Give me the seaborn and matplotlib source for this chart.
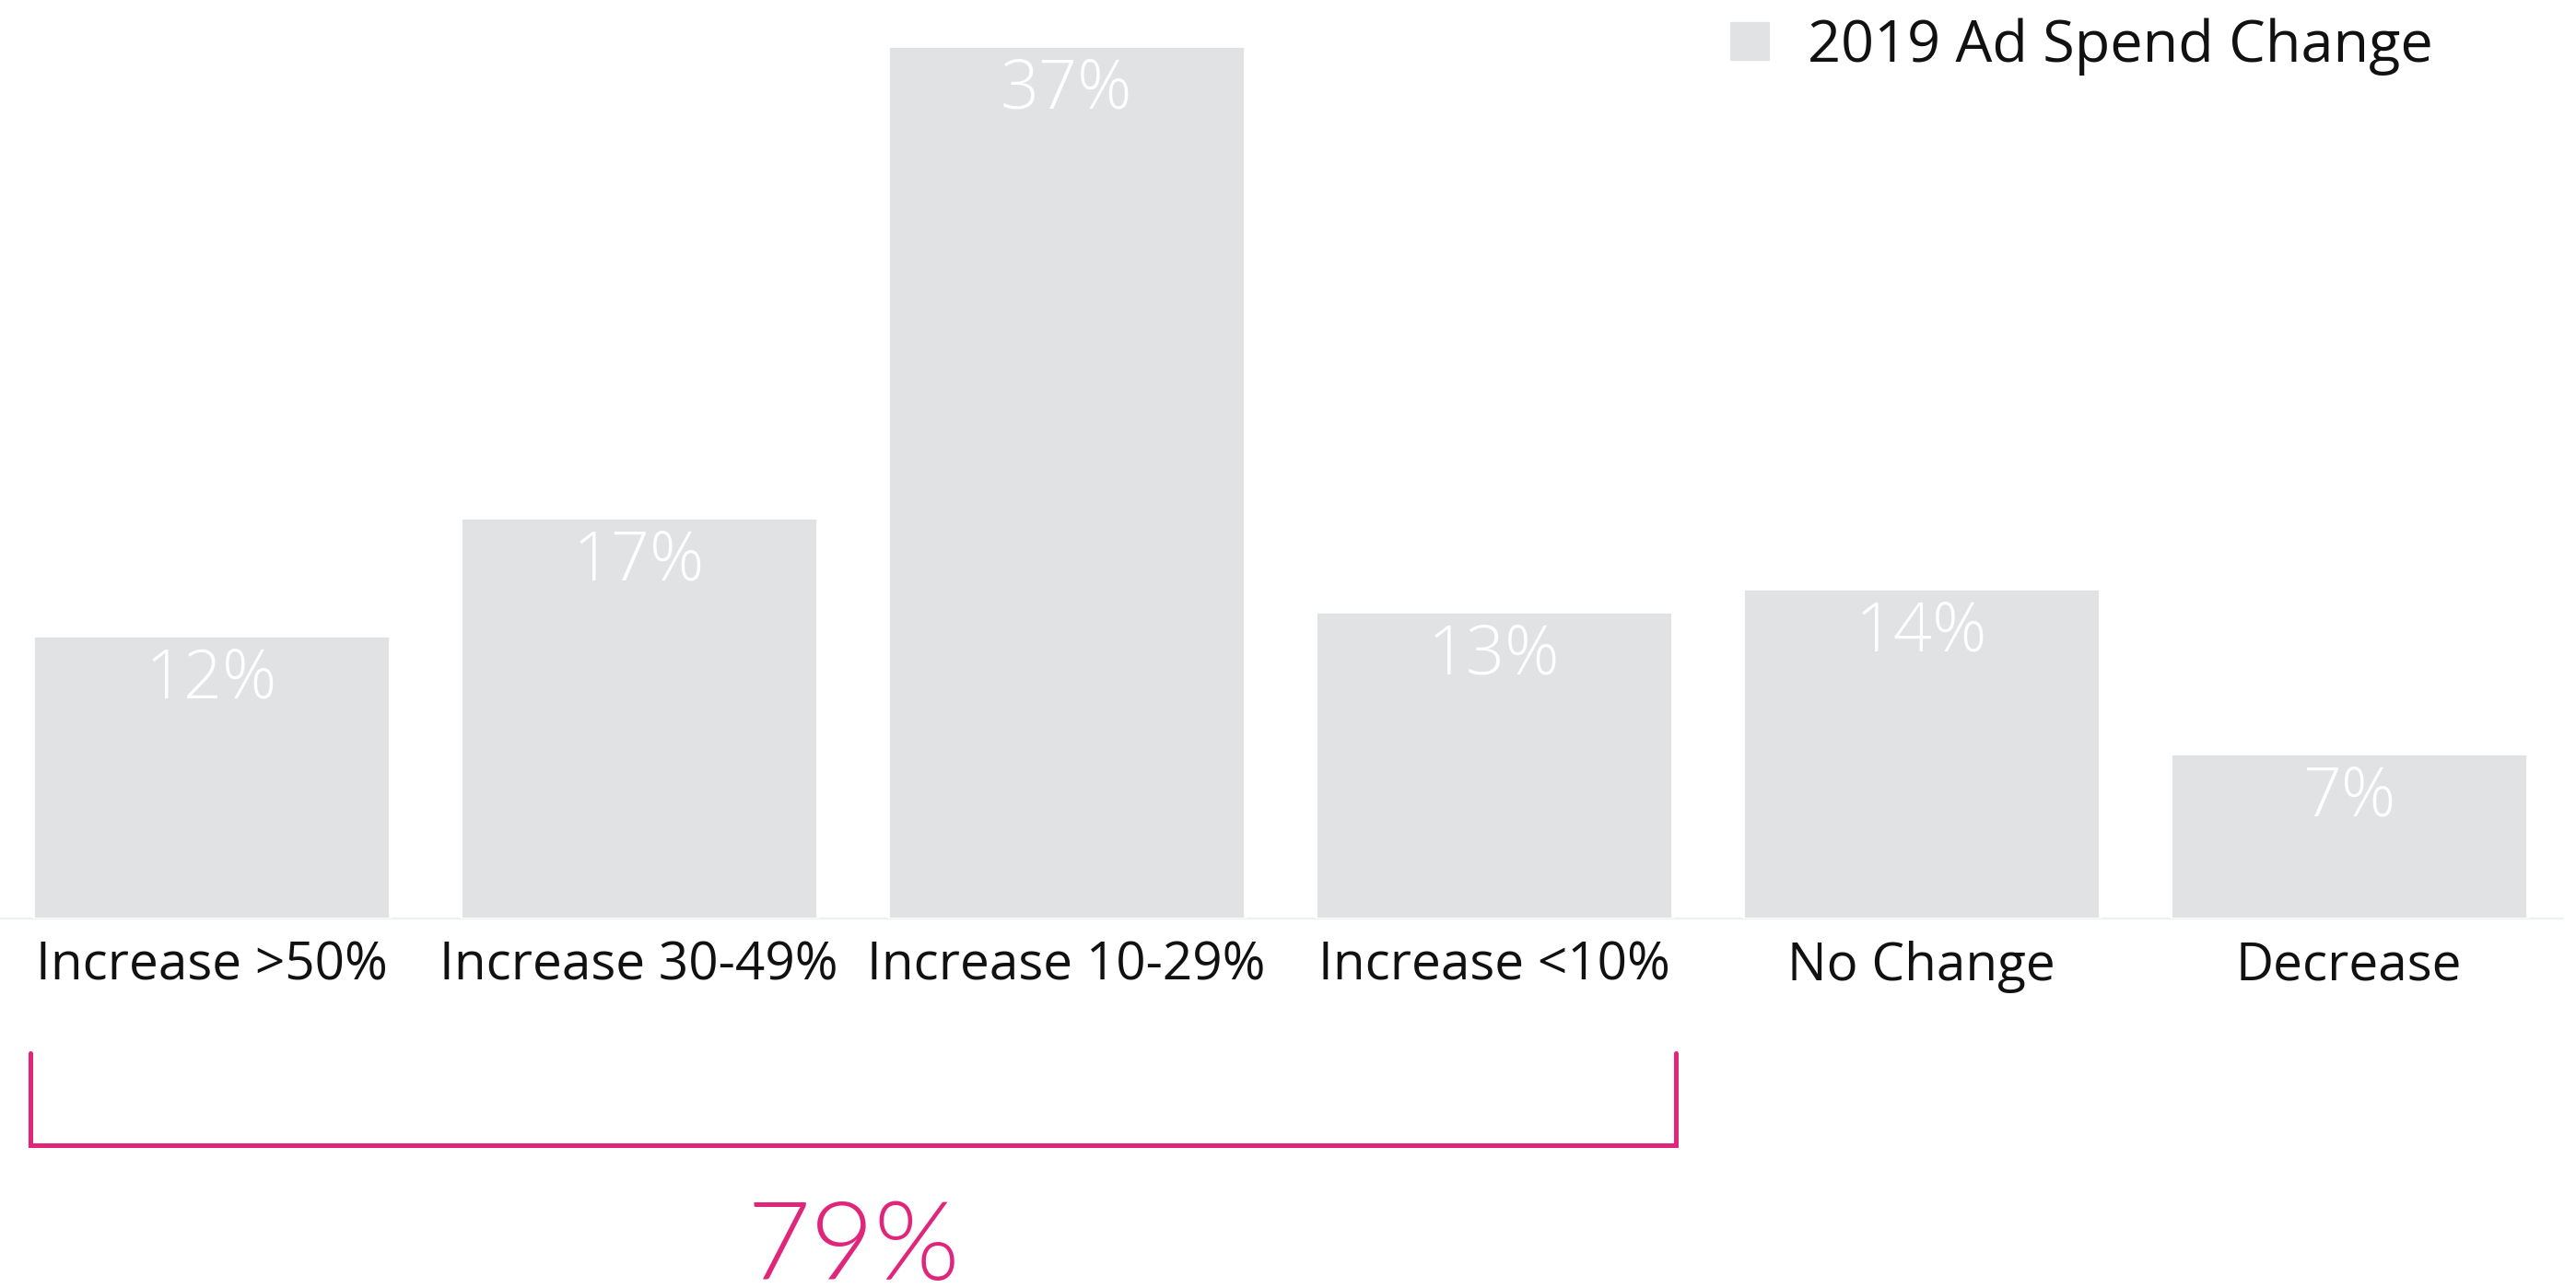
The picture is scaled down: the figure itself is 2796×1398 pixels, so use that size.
import matplotlib
matplotlib.use("Agg")
import matplotlib.pyplot as plt
import seaborn as sns
import pandas as pd
from matplotlib.lines import Line2D

# Survey results: planned 2019 ad spend change
categories = ["Increase >50%", "Increase 30-49%", "Increase 10-29%",
              "Increase <10%", "No Change", "Decrease"]
shares = [12, 17, 37, 13, 14, 7]
series_name = "2019 Ad Spend Change"
increase_groups = 4  # first four categories are increases

BAR_COLOR = "#E1E2E4"
ACCENT = "#E0267B"
TEXT = "#111111"

sns.set_theme(style="white")
plt.rcParams["font.family"] = ["Open Sans", "DejaVu Sans"]

df = pd.DataFrame({"category": categories, "share": shares})

W, H, DPI = 2796, 1398, 200
fig = plt.figure(figsize=(W / DPI, H / DPI), dpi=DPI)
ax = fig.add_axes([-2.5 / W, 401 / H, 2784 / W, 997 / H])

bar_width = 0.834
sns.barplot(data=df, x="category", y="share", color=BAR_COLOR,
            width=bar_width, saturation=1, label=series_name, ax=ax,
            zorder=2)

ax.set_xlim(-0.5, len(categories) - 0.5)
ax.set_ylim(0, 38.95)
ax.set_xlabel("")
ax.set_ylabel("")
ax.set_yticks([])
for side in ("top", "left", "right"):
    ax.spines[side].set_visible(False)
ax.spines["bottom"].set_color("#EEF1F1")
ax.spines["bottom"].set_linewidth(0.8)
ax.spines["bottom"].set_zorder(1)
ax.tick_params(axis="x", length=0, pad=8.5, labelsize=20.4, labelcolor=TEXT)

# value labels inside the top of each bar
for i, v in enumerate(shares):
    ax.annotate(f"{v}%", xy=(i, v), xytext=(0, -24.3),
                textcoords="offset points", ha="center", va="baseline",
                fontsize=26.5, fontweight=300, color="white", zorder=3)

# bracket grouping the increase categories
left = 0 - bar_width / 2 - 0.006
right = (increase_groups - 1) + bar_width / 2 + 0.009
y_top, y_bot = -5.70, -9.63
bracket = Line2D([left, left, right, right], [y_top, y_bot, y_bot, y_top],
                 color=ACCENT, lw=1.8, solid_joinstyle="miter",
                 clip_on=False, zorder=3)
ax.add_line(bracket)

total_increase = sum(shares[:increase_groups])
ax.text((left + right) / 2, -15.3, f"{total_increase}%", ha="center",
        va="baseline", fontsize=43, fontweight=300, color=ACCENT,
        family=["Lato", "DejaVu Sans"], clip_on=False)

# legend in the upper right
leg = ax.legend(loc="upper left", bbox_to_anchor=(1876 / W, 1 - 19 / H),
                bbox_transform=fig.transFigure, frameon=False, fontsize=22.7,
                handlelength=0.73, handleheight=0.73, handletextpad=0.63,
                borderpad=0, borderaxespad=0)
for t in leg.get_texts():
    t.set_color(TEXT)

fig.savefig("out.png", dpi=DPI, facecolor="white")
